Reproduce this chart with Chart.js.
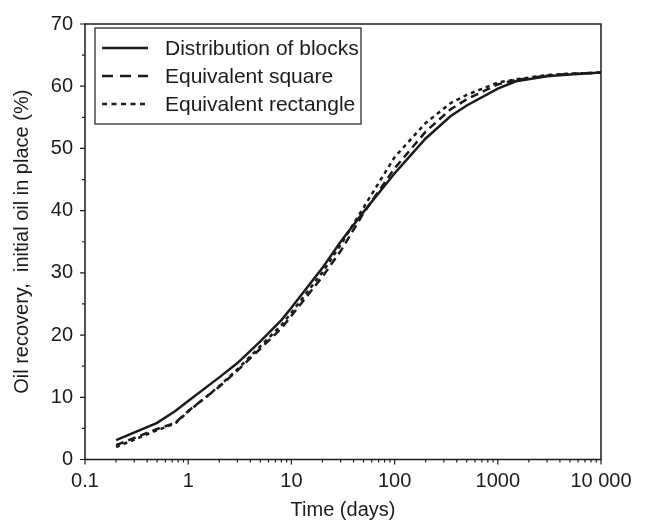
<!DOCTYPE html>
<html>
<head>
<meta charset="utf-8">
<script src="https://cdn.jsdelivr.net/npm/chart.js@4.4.0/dist/chart.umd.min.js"></script>
<style>
html,body{margin:0;padding:0;background:#fff;}
#wrap{width:645px;height:531px;position:relative;}
</style>
</head>
<body>
<div id="wrap"><canvas id="c" width="645" height="531"></canvas></div>
<script>
// ---- data ----
const times = [0.2, 0.5, 0.75, 1, 2, 3, 5, 8, 10, 20, 30, 50, 80, 100, 200, 350, 500, 1000, 1500, 3000, 5000, 10000];
const blocks = [3.1, 5.9, 7.8, 9.4, 13.2, 15.5, 19.0, 22.4, 24.4, 30.8, 35.0, 39.8, 44.0, 46.0, 51.6, 55.2, 56.9, 59.6, 60.8, 61.6, 61.9, 62.2];
const square = [2.3, 4.9, 5.9, 7.8, 11.7, 14.3, 17.8, 21.1, 23.1, 29.4, 33.5, 39.6, 44.5, 46.8, 52.7, 56.3, 57.9, 60.3, 61.0, 61.7, 62.0, 62.2];
const rect = [2.0, 4.7, 5.8, 7.7, 11.8, 14.5, 18.2, 21.6, 23.6, 30.1, 34.5, 40.5, 46.0, 48.6, 54.1, 57.3, 58.6, 60.6, 61.1, 61.8, 62.0, 62.2];
const seriesNames = ['Distribution of blocks', 'Equivalent square', 'Equivalent rectangle'];
const xTickValues = [0.1, 1, 10, 100, 1000, 10000];
const xTickLabels = ['0.1', '1', '10', '100', '1000', '10 000'];
const yTickValues = [0, 10, 20, 30, 40, 50, 60, 70];
const xTitle = 'Time (days)';
const yTitle = 'Oil recovery,  initial oil in place (%)';

const FONT = "'Liberation Sans', Arial, Helvetica, sans-serif";
const INK = '#1b1b1b';
const pts = arr => times.map((t, i) => ({x: t, y: arr[i]}));

const frameTicks = {
  id: 'frameTicks',
  afterDraw(chart) {
    const {ctx, chartArea: a, scales: {x, y}} = chart;
    ctx.save();
    ctx.strokeStyle = INK;
    ctx.lineWidth = 1.5;
    ctx.strokeRect(a.left, a.top, a.right - a.left, a.bottom - a.top);
    ctx.lineWidth = 1.2;
    ctx.beginPath();
    for (let e = -1; e <= 4; e++) {
      const d = Math.pow(10, e);
      for (let k = 1; k <= 9; k++) {
        const v = k * d;
        if (v > 10000 + 1e-9) break;
        const px = x.getPixelForValue(v);
        const len = k === 1 ? 5 : 3;
        ctx.moveTo(px, a.bottom);
        ctx.lineTo(px, a.bottom + len);
      }
    }
    for (let v = 0; v <= 70; v += 5) {
      const py = y.getPixelForValue(v);
      const len = v % 10 === 0 ? 5 : 3;
      ctx.moveTo(a.left, py);
      ctx.lineTo(a.left - len, py);
    }
    ctx.stroke();

    // legend box
    const bx = 95, by = 28, bw = 266, bh = 96;
    ctx.lineWidth = 1.2;
    ctx.fillStyle = '#fff';
    ctx.fillRect(bx, by, bw, bh);
    ctx.strokeRect(bx, by, bw, bh);
    ctx.font = '21px ' + FONT;
    ctx.textBaseline = 'middle';
    ctx.fillStyle = INK;
    chart.data.datasets.forEach((ds, i) => {
      const ry = 48 + i * 28;
      ctx.save();
      ctx.strokeStyle = INK;
      ctx.lineWidth = ds.borderWidth;
      ctx.setLineDash(ds.legendDash || []);
      ctx.beginPath();
      ctx.moveTo(102, ry);
      ctx.lineTo(148, ry);
      ctx.stroke();
      ctx.restore();
      ctx.fillText(ds.label, 165, ry + 1);
    });
    ctx.restore();
  }
};

new Chart(document.getElementById('c'), {
  type: 'line',
  data: {
    datasets: [
      {label: seriesNames[0], data: pts(blocks), borderColor: INK, borderWidth: 2.5, pointRadius: 0, tension: 0, borderDash: [], legendDash: []},
      {label: seriesNames[1], data: pts(square), borderColor: INK, borderWidth: 2.5, pointRadius: 0, tension: 0, borderDash: [8, 5], legendDash: [11, 7]},
      {label: seriesNames[2], data: pts(rect), borderColor: INK, borderWidth: 2.5, pointRadius: 0, tension: 0, borderDash: [4, 4], legendDash: [5, 4.5]}
    ]
  },
  options: {
    responsive: false,
    animation: false,
    layout: {padding: {top: 13, right: 44, left: 0, bottom: 0}},
    plugins: {legend: {display: false}, tooltip: {enabled: false}},
    scales: {
      x: {
        type: 'logarithmic',
        min: 0.1, max: 10000,
        afterBuildTicks: s => { s.ticks = xTickValues.map(v => ({value: v, major: true})); },
        afterFit: s => { s.height = 71.5; },
        grid: {display: false, drawTicks: false},
        border: {display: false},
        ticks: {
          autoSkip: false, maxRotation: 0, padding: 10, color: INK,
          font: {family: FONT, size: 20},
          callback: (v) => { const i = xTickValues.indexOf(v); return i >= 0 ? xTickLabels[i] : ''; }
        },
        title: {display: true, text: xTitle, color: INK, font: {family: FONT, size: 20}, padding: {top: 0, bottom: 9}}
      },
      y: {
        min: 0, max: 70,
        afterBuildTicks: s => { s.ticks = yTickValues.map(v => ({value: v})); },
        afterFit: s => { s.width = 85; },
        grid: {display: false, drawTicks: false},
        border: {display: false},
        ticks: {padding: 12, color: INK, font: {family: FONT, size: 20}},
        title: {display: true, text: yTitle, color: INK, font: {family: FONT, size: 20}, padding: {top: 10, bottom: 0}}
      }
    }
  },
  plugins: [frameTicks]
});
</script>
</body>
</html>
